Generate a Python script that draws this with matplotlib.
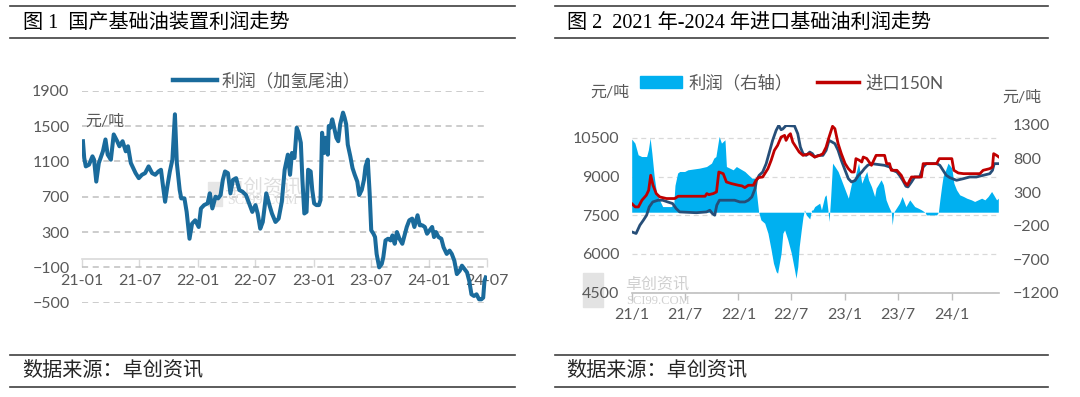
import numpy as np
import pandas as pd
import matplotlib
matplotlib.use('Agg')
import matplotlib.pyplot as plt
import matplotlib.dates as mdates
from matplotlib.ticker import FuncFormatter
from matplotlib.lines import Line2D
from matplotlib.patches import Patch, Rectangle

plt.rcParams['font.family'] = ['Lato', 'Noto Sans CJK SC', 'DejaVu Sans']

'''
DATA
'''
# fig 1: domestic base oil unit profit (hydro-cracked tail oil), yuan/t
dom_dates = ['2021-01-04', '2021-01-08', '2021-01-13', '2021-01-23', '2021-02-03', '2021-02-08',
             '2021-02-15', '2021-02-23', '2021-03-08', '2021-03-16', '2021-03-23', '2021-04-02',
             '2021-04-11', '2021-04-22', '2021-04-29', '2021-05-09', '2021-05-19', '2021-05-26',
             '2021-06-04', '2021-06-19', '2021-06-29', '2021-07-09', '2021-07-19', '2021-07-30',
             '2021-08-10', '2021-08-20', '2021-08-30', '2021-09-07', '2021-09-13', '2021-09-20',
             '2021-09-27', '2021-10-05', '2021-10-13', '2021-10-21', '2021-10-27', '2021-11-05',
             '2021-11-10', '2021-11-20', '2021-11-27', '2021-12-06', '2021-12-14', '2021-12-24',
             '2022-01-04', '2022-01-11', '2022-01-21', '2022-02-01', '2022-02-08', '2022-02-16',
             '2022-02-26', '2022-03-06', '2022-03-14', '2022-03-21', '2022-03-28', '2022-04-06',
             '2022-04-14', '2022-04-22', '2022-05-02', '2022-05-12', '2022-05-22', '2022-06-02',
             '2022-06-12', '2022-06-22', '2022-07-02', '2022-07-09', '2022-07-17', '2022-07-25',
             '2022-08-05', '2022-08-15', '2022-08-23', '2022-09-03', '2022-09-13', '2022-09-23',
             '2022-10-02', '2022-10-12', '2022-10-19', '2022-10-25', '2022-11-02', '2022-11-09',
             '2022-11-15', '2022-11-22', '2022-11-27', '2022-12-03', '2022-12-10', '2022-12-15',
             '2022-12-23', '2022-12-28', '2023-01-03', '2023-01-10', '2023-01-18', '2023-01-23',
             '2023-01-28', '2023-02-03', '2023-02-08', '2023-02-15', '2023-02-18', '2023-02-23',
             '2023-03-01', '2023-03-06', '2023-03-14', '2023-03-20', '2023-03-26', '2023-04-04',
             '2023-04-09', '2023-04-14', '2023-04-19', '2023-04-27', '2023-05-04', '2023-05-11',
             '2023-05-19', '2023-05-25', '2023-06-02', '2023-06-09', '2023-06-14', '2023-06-21',
             '2023-06-27', '2023-07-02', '2023-07-09', '2023-07-14', '2023-07-19', '2023-07-27',
             '2023-08-04', '2023-08-09', '2023-08-16', '2023-08-24', '2023-09-01', '2023-09-07',
             '2023-09-14', '2023-09-21', '2023-09-29', '2023-10-08', '2023-10-15', '2023-10-22',
             '2023-10-30', '2023-11-08', '2023-11-15', '2023-11-25', '2023-12-02', '2023-12-10',
             '2023-12-18', '2023-12-25', '2024-01-02', '2024-01-10', '2024-01-16', '2024-01-22',
             '2024-01-30', '2024-02-08', '2024-02-15', '2024-02-25', '2024-03-05', '2024-03-12',
             '2024-03-20', '2024-03-28', '2024-04-06', '2024-04-13', '2024-04-21', '2024-04-29',
             '2024-05-06', '2024-05-13', '2024-05-21', '2024-05-29', '2024-06-06', '2024-06-13',
             '2024-06-19', '2024-06-23', '2024-06-27']
dom_profit = [1328, 1138, 1043, 1062, 1157, 1119,
              871, 1081, 1214, 1348, 1176, 1119,
              1405, 1328, 1271, 1328, 1214, 1271,
              1081, 967, 910, 948, 967, 1043,
              967, 948, 986, 1005, 833, 643,
              814, 986, 1119, 1633, 1081, 776,
              681, 681, 528, 224, 395, 433,
              357, 567, 605, 624, 738, 567,
              700, 681, 719, 890, 986, 967,
              738, 890, 910, 776, 757, 719,
              624, 528, 605, 509, 338, 414,
              738, 605, 509, 414, 452, 643,
              1005, 1176, 948, 1195, 1138, 1481,
              1424, 1310, 890, 510, 528, 1005,
              986, 776, 624, 605, 605, 662,
              1424, 1195, 1367, 1176, 1500, 1481,
              1576, 1500, 1367, 1328, 1519, 1652,
              1595, 1519, 1290, 1157, 1024, 948,
              871, 719, 776, 890, 1043, 1119,
              738, 319, 281, 243, 52, -100,
              -62, 14, 205, 224, 205, 262,
              167, 300, 224, 167, 262, 357,
              433, 452, 357, 490, 376, 376,
              357, 281, 319, 357, 243, 300,
              243, 224, 128, 52, 90, 52,
              -24, -176, -138, -81, -119, -157,
              -253, -405, -424, -405, -462, -462,
              -443, -253, -214]

# fig 2: import profit (right axis), yuan/t
imp_profit_dates = ['2021-01-01', '2021-01-12', '2021-01-23', '2021-02-04', '2021-02-21', '2021-02-27',
                    '2021-03-05', '2021-03-11', '2021-03-19', '2021-03-27', '2021-04-06', '2021-04-17',
                    '2021-05-16', '2021-05-25', '2021-05-29', '2021-06-07', '2021-06-14', '2021-07-01',
                    '2021-07-12', '2021-08-21', '2021-09-14', '2021-10-01', '2021-10-09', '2021-10-16',
                    '2021-10-27', '2021-11-04', '2021-11-16', '2021-11-21', '2021-12-14', '2021-12-25',
                    '2022-01-23', '2022-02-04', '2022-02-16', '2022-02-27', '2022-03-04', '2022-03-11',
                    '2022-03-19', '2022-04-01', '2022-04-12', '2022-04-23', '2022-05-01', '2022-05-10',
                    '2022-05-15', '2022-05-27', '2022-06-02', '2022-06-08', '2022-06-19', '2022-07-01',
                    '2022-07-12', '2022-07-17', '2022-07-23', '2022-07-28', '2022-08-04', '2022-08-10',
                    '2022-08-15', '2022-08-21', '2022-09-02', '2022-09-08', '2022-09-13', '2022-09-19',
                    '2022-10-06', '2022-10-12', '2022-10-23', '2022-10-28', '2022-11-04', '2022-11-07',
                    '2022-11-12', '2022-11-19', '2022-11-27', '2022-12-08', '2022-12-19', '2023-01-01',
                    '2023-01-12', '2023-01-23', '2023-02-04', '2023-02-16', '2023-02-27', '2023-03-08',
                    '2023-03-16', '2023-03-22', '2023-04-01', '2023-04-12', '2023-04-17', '2023-05-04',
                    '2023-05-12', '2023-05-21', '2023-05-30', '2023-06-08', '2023-06-11', '2023-06-16',
                    '2023-06-25', '2023-07-06', '2023-07-15', '2023-07-28', '2023-08-10', '2023-08-27',
                    '2023-09-08', '2023-09-19', '2023-10-01', '2023-10-06', '2023-11-10', '2023-11-16',
                    '2023-11-21', '2023-11-27', '2023-12-02', '2023-12-11', '2023-12-19', '2024-01-01',
                    '2024-01-08', '2024-01-17', '2024-01-28', '2024-02-10', '2024-02-21', '2024-03-08',
                    '2024-03-19', '2024-04-12', '2024-04-23', '2024-05-04', '2024-05-16', '2024-05-23',
                    '2024-06-02', '2024-06-08']
imp_profit = [1090, 1030, 856, 830, 830, 930,
              1105, 881, 532, 284, 184, 84,
              84, 120, 400, 583, 607, 607,
              632, 657, 681, 732, 807, 830,
              1130, 1030, 1080, 681, 632, 681,
              607, 557, 508, 508, 284, 9,
              -115, -164, -313, -562, -761, -886,
              -910, -612, -313, -264, -413, -612,
              -861, -985, -812, -513, -264, -65,
              35, -40, -100, 30, 35, 84,
              135, 35, 234, 259, 0, -140,
              184, 732, 681, 607, 483, 334,
              209, 433, 532, 732, 433, 532,
              607, 483, 383, 234, 358, 483,
              408, 184, 84, 0, -189, 0,
              60, 135, 234, 84, 184, 84,
              60, 35, 0, -40, -40, 0,
              184, 383, 532, 632, 732, 657,
              433, 334, 259, 234, 209, 184,
              160, 209, 184, 234, 309, 259,
              184, 209]

# fig 2: imported 150N price, yuan/t
imp_150n_dates = ['2021-01-01', '2021-01-13', '2021-01-24', '2021-02-05', '2021-02-20', '2021-02-28',
                  '2021-03-07', '2021-03-15', '2021-03-26', '2021-04-07', '2021-04-30', '2021-05-28',
                  '2021-06-09', '2021-09-09', '2021-09-15', '2021-09-22', '2021-10-07', '2021-10-18',
                  '2021-10-26', '2021-11-10', '2021-11-21', '2021-12-08', '2022-01-01', '2022-01-13',
                  '2022-01-23', '2022-02-04', '2022-02-21', '2022-03-02', '2022-03-11', '2022-03-25',
                  '2022-04-12', '2022-04-23', '2022-05-04', '2022-05-15', '2022-05-27', '2022-06-08',
                  '2022-06-13', '2022-06-22', '2022-06-28', '2022-07-06', '2022-07-17', '2022-07-28',
                  '2022-08-10', '2022-09-02', '2022-09-19', '2022-10-06', '2022-10-17', '2022-10-28',
                  '2022-11-07', '2022-11-19', '2022-11-27', '2022-12-08', '2022-12-19', '2023-01-01',
                  '2023-01-12', '2023-01-23', '2023-02-01', '2023-02-07', '2023-02-19', '2023-02-27',
                  '2023-03-04', '2023-03-16', '2023-04-01', '2023-04-17', '2023-05-16', '2023-05-23',
                  '2023-06-02', '2023-06-08', '2023-06-27', '2023-07-12', '2023-07-23', '2023-08-02',
                  '2023-08-10', '2023-08-16', '2023-09-19', '2023-09-25', '2023-11-10', '2023-11-19',
                  '2024-01-01', '2024-01-08', '2024-01-23', '2024-02-10', '2024-04-06', '2024-04-17',
                  '2024-05-10', '2024-05-19', '2024-05-23', '2024-06-02', '2024-06-10']
imp_150n = [7956, 7825, 7825, 8084, 8277, 8470,
            9050, 8664, 8342, 8212, 8150, 8150,
            8238, 8238, 8342, 8300, 8342, 8405,
            9178, 9114, 8792, 8729, 8664, 8640,
            8574, 8664, 8664, 8857, 8961, 8985,
            9309, 9630, 10017, 10210, 10531, 10597,
            10403, 10597, 10662, 10338, 10144, 9951,
            9823, 9889, 9758, 9823, 9889, 10144,
            10531, 10950, 10856, 10276, 9889, 9502,
            9309, 9178, 9178, 9696, 9630, 9565,
            9758, 9700, 9437, 9823, 9823, 9502,
            9502, 9244, 9244, 9050, 8792, 8664,
            8857, 8985, 8985, 9502, 9502, 9696,
            9696, 9244, 9140, 9114, 9114, 9244,
            9309, 9373, 9889, 9823, 9758]

# fig 2: dark blue line (no legend entry), yuan/t
mkt_dates = ['2021-01-01', '2021-01-16', '2021-01-29', '2021-02-10', '2021-02-21', '2021-03-02',
             '2021-03-14', '2021-04-01', '2021-04-17', '2021-05-04', '2021-05-21', '2021-06-02',
             '2021-06-14', '2021-08-10', '2021-09-14', '2021-09-25', '2021-10-04', '2021-10-12',
             '2021-10-19', '2021-10-28', '2021-12-19', '2022-01-06', '2022-01-23', '2022-02-04',
             '2022-02-16', '2022-02-27', '2022-03-04', '2022-03-13', '2022-03-25', '2022-04-06',
             '2022-04-17', '2022-04-28', '2022-05-10', '2022-05-19', '2022-05-27', '2022-06-02',
             '2022-06-13', '2022-07-12', '2022-07-23', '2022-08-01', '2022-08-10', '2022-08-21',
             '2022-09-02', '2022-09-11', '2022-09-19', '2022-10-01', '2022-10-17', '2022-10-28',
             '2022-11-07', '2022-11-16', '2022-11-27', '2022-12-08', '2022-12-19', '2023-01-01',
             '2023-01-12', '2023-01-23', '2023-02-04', '2023-02-16', '2023-02-27', '2023-03-08',
             '2023-03-19', '2023-04-01', '2023-05-16', '2023-06-02', '2023-06-13', '2023-06-27',
             '2023-07-06', '2023-07-17', '2023-07-28', '2023-08-04', '2023-08-16', '2023-08-27',
             '2023-09-13', '2023-09-25', '2023-10-06', '2023-11-10', '2023-11-21', '2023-12-02',
             '2023-12-13', '2023-12-25', '2024-01-17', '2024-02-10', '2024-03-02', '2024-03-25',
             '2024-04-17', '2024-05-10', '2024-05-19', '2024-05-25', '2024-06-10']
mkt_price = [6858, 6796, 7117, 7311, 7504, 7825,
             8018, 8084, 8084, 8018, 7956, 7763,
             7631, 7600, 7631, 7696, 7568, 7504,
             7890, 8084, 8084, 8018, 8018, 8084,
             8212, 8535, 8857, 9050, 9178, 9502,
             9951, 10403, 10790, 10984, 10817, 10850,
             10980, 10960, 10662, 10144, 9889, 9823,
             9951, 9889, 9758, 9823, 9823, 10017,
             10403, 10350, 10276, 10017, 9630, 9244,
             8921, 8792, 8850, 9050, 9178, 9309,
             9437, 9502, 9437, 9373, 9244, 9178,
             9050, 8857, 8625, 8600, 8792, 8985,
             8985, 9373, 9502, 9502, 9437, 9244,
             9050, 8961, 8857, 8921, 8985, 8985,
             9050, 9114, 9244, 9502, 9502]

'''
STYLE
'''
W, H = 1080, 397
grey_txt = '#595959'
rule_col = '#3f3f3f'
dom_col = '#1a6b9c'
area_col = '#00b0f0'
red_col = '#c00000'
navy_col = '#264e78'
title_font = ['Liberation Serif', 'Noto Sans CJK SC']


def fx(px):
    return px / W


def fy(py):
    return 1 - py / H


fig = plt.figure(figsize=(W / 100, H / 100), dpi=100)
fig.patch.set_facecolor('white')

# title / source frame for both panels
for x0, x1, title, tx in [(10, 515, '图 1  国产基础油装置利润走势', 23),
                          (555, 1048, '图 2  2021 年-2024 年进口基础油利润走势', 567)]:
    for yy in (6, 38, 355, 387):
        fig.add_artist(Line2D([fx(x0), fx(x1)], [fy(yy), fy(yy)], color=rule_col, lw=1.2))
    fig.text(fx(tx), fy(23), title, ha='left', va='center', fontsize=14.5,
             family=title_font, color='black')
    fig.text(fx(tx - 1), fy(371), '数据来源：卓创资讯', ha='left', va='center',
             fontsize=14.5, family=title_font, color='#262626')

'''
FIG 1
'''
ax1 = fig.add_axes([fx(82), fy(302.7), (487 - 82) / W, (302.7 - 90.7) / H])
ax1.plot(pd.to_datetime(dom_dates), dom_profit, color=dom_col, lw=2.9,
         solid_joinstyle='round', zorder=3)
ax1.set_xlim(pd.Timestamp('2021-01-01'), pd.Timestamp('2024-07-01'))
ax1.set_ylim(-500, 1900)
ax1.set_yticks(np.arange(-500, 1901, 400))
ax1.yaxis.grid(True, color='#bfbfbf', ls=(0, (4, 3)), lw=1.1)
ax1.set_axisbelow(True)
ax1.xaxis.set_major_locator(mdates.MonthLocator(bymonth=[1, 7]))
ax1.xaxis.set_major_formatter(mdates.DateFormatter('%y-%m'))
for s in ('top', 'right', 'left'):
    ax1.spines[s].set_visible(False)
ax1.spines['bottom'].set_position(('data', 0))
ax1.spines['bottom'].set_color('#d9d9d9')
ax1.spines['bottom'].set_linewidth(1.2)
ax1.tick_params(axis='x', direction='out', length=6, width=1, color='#d9d9d9',
                labelsize=11.5, labelcolor=grey_txt, pad=5)
ax1.tick_params(axis='y', length=0, pad=9, labelsize=11.5, labelcolor=grey_txt)

ax1.legend([Line2D([], [], color=dom_col, lw=3.2)], ['利润（加氢尾油）'],
           loc='center', bbox_to_anchor=(fx(267), fy(81)), bbox_transform=fig.transFigure,
           frameon=False, fontsize=12.5, labelcolor=grey_txt, handlelength=2.5,
           handletextpad=0.3, borderpad=0)
fig.text(fx(85), fy(122), '元/吨', ha='left', va='center', fontsize=11.5, color=grey_txt)

# faint watermark
ax1.add_artist(Rectangle((fx(208), fy(206)), fx(14), 24 / H, transform=fig.transFigure,
                         color='#e6e6e6', zorder=1))
ax1.text(fx(225), fy(187), '卓创资讯', transform=fig.transFigure, fontsize=14,
         color='#dedede', va='center', zorder=1)
ax1.text(fx(227), fy(201), 'SCI99.COM', transform=fig.transFigure, fontsize=10,
         family='Liberation Serif', color='#dedede', va='center', zorder=1)

'''
FIG 2
'''
ax2 = fig.add_axes([fx(631.7), fy(292.7), (998.9 - 631.7) / W, (292.7 - 125) / H])
ax2.set_xlim(pd.Timestamp('2021-01-01'), pd.Timestamp('2024-06-10'))
ax2.set_ylim(4500, 11000)
ax2.set_yticks(np.arange(4500, 10501, 1500))
ax2.yaxis.grid(True, color='#d9d9d9', ls=(0, (4, 3)), lw=0.9)
ax2.set_axisbelow(True)
ax2.xaxis.set_major_locator(mdates.MonthLocator(bymonth=[1, 7]))
ax2.xaxis.set_major_formatter(FuncFormatter(
    lambda v, pos: f'{mdates.num2date(v).year % 100}/{mdates.num2date(v).month}'))
for s in ('top', 'right', 'left'):
    ax2.spines[s].set_visible(False)
ax2.spines['bottom'].set_color('#bfbfbf')
ax2.spines['bottom'].set_linewidth(1.2)
ax2.tick_params(axis='x', direction='out', length=5, width=1, color='#bfbfbf',
                labelsize=11.5, labelcolor=grey_txt, pad=6)
ax2.tick_params(axis='y', length=0, pad=9, labelsize=11.5, labelcolor=grey_txt)

# profit area on the right axis
ax2r = ax2.twinx()
ax2r.fill_between(pd.to_datetime(imp_profit_dates), 0, imp_profit, color=area_col, lw=0)
ax2r.set_ylim(-1200, 1300)
ax2r.set_yticks(np.arange(-1200, 1301, 500))
ax2r.tick_params(axis='y', length=0, pad=10, labelsize=11.5, labelcolor=grey_txt)
for s in ax2r.spines.values():
    s.set_visible(False)

# price lines on top, left scale
ax2l = ax2.twinx()
ax2l.set_ylim(ax2.get_ylim())
ax2l.plot(pd.to_datetime(mkt_dates), mkt_price, color=navy_col, lw=2.0,
          solid_joinstyle='round')
ax2l.plot(pd.to_datetime(imp_150n_dates), imp_150n, color=red_col, lw=2.0,
          solid_joinstyle='round')
ax2l.set_yticks([])
for s in ax2l.spines.values():
    s.set_visible(False)

ax2l.legend([Patch(color=area_col), Line2D([], [], color=red_col, lw=2.5)],
            ['利润（右轴）', '进口150N'], ncol=2, loc='center',
            bbox_to_anchor=(fx(792), fy(83)), bbox_transform=fig.transFigure,
            frameon=False, fontsize=12.5, labelcolor=grey_txt, handlelength=2.4,
            handletextpad=0.4, columnspacing=1.4, borderpad=0)
fig.text(fx(590), fy(93), '元/吨', ha='left', va='center', fontsize=11.5, color=grey_txt)
fig.text(fx(1002), fy(98), '元/吨', ha='left', va='center', fontsize=11.5, color=grey_txt)

# faint watermark (kept clear of the 4500 label)
ax2.add_artist(Rectangle((fx(583), fy(307)), fx(20), 34 / H, transform=fig.transFigure,
                         color='#e3e3e3', zorder=0.5, clip_on=False))
ax2.text(fx(625), fy(284), '卓创资讯', transform=fig.transFigure, fontsize=11.5,
         color='#d0d0d0', va='center', zorder=0.5)
ax2.text(fx(626), fy(301), 'SCI99.COM', transform=fig.transFigure, fontsize=9,
         family='Liberation Serif', color='#d0d0d0', va='center', zorder=0.5)

fig.savefig('out.png', dpi=100)
